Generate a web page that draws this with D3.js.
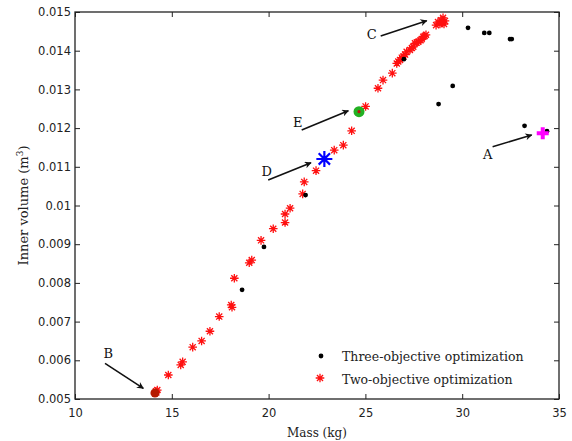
<!DOCTYPE html>
<html><head><meta charset="utf-8">
<script src="https://cdn.jsdelivr.net/npm/d3@7"></script>
<style>html,body{margin:0;padding:0;background:#fff;}svg{display:block;}</style>
</head><body>
<svg id="c" width="572" height="441"></svg>
<script>
// ---- data ----
const xTicks = [10, 15, 20, 25, 30, 35];
const yTicks = [0.005,0.006,0.007,0.008,0.009,0.01,0.011,0.012,0.013,0.014,0.015];
const yTickLabels = ["0.005","0.006","0.007","0.008","0.009","0.01","0.011","0.012","0.013","0.014","0.015"];

const threeMass = [14.15, 18.63, 19.76, 21.91, 26.99, 28.78, 29.51, 30.30, 31.14, 31.40, 32.47, 32.56, 33.22, 34.38];
const threeVol  = [0.00516, 0.00782, 0.00893, 0.01027, 0.01378, 0.01262, 0.01309, 0.01459, 0.01446, 0.01446, 0.01430, 0.01430, 0.01206, 0.01192];

const twoMass = [14.18,14.25,14.20,14.82,15.46,15.56,16.08,16.54,16.97,17.45,18.07,18.11,18.23,19.00,19.13,19.61,20.24,20.85,20.85,21.11,21.76,21.84,22.45,23.39,23.86,24.29,24.65,25.01,25.65,25.91,26.39,26.62,26.70,26.79,26.88,26.96,27.05,27.13,27.30,27.40,27.47,27.56,27.65,27.73,27.85,27.91,27.99,28.06,28.13,28.65,28.75,28.85,28.90,29.01,29.06,29.11,28.95];
const twoVol  = [0.00520,0.00523,0.00517,0.00562,0.00588,0.00596,0.00634,0.00650,0.00675,0.00713,0.00743,0.00737,0.00812,0.00852,0.00859,0.00910,0.00940,0.00956,0.00978,0.00993,0.01030,0.01061,0.01090,0.01143,0.01156,0.01193,0.01242,0.01256,0.01303,0.01324,0.01342,0.01367,0.01372,0.01376,0.01382,0.01385,0.01390,0.01397,0.01402,0.01407,0.01410,0.01419,0.01421,0.01423,0.01427,0.01430,0.01436,0.01438,0.01441,0.01466,0.01474,0.01469,0.01479,0.01485,0.01469,0.01477,0.01472];

// special points A, B, D, E
const specialNames = ["A","B","D","E"];
const specialMass  = [34.16, 14.13, 22.88, 24.67];
const specialVol   = [0.011866, 0.005155, 0.011202, 0.012424];

// annotation labels and arrows (tail -> head), data units
const annNames    = ["A","B","C","D","E"];
const annLabelM   = [31.32, 11.72, 25.33, 19.90, 21.50];
const annLabelV   = [0.011305, 0.006163, 0.014424, 0.010873, 0.012150];
const arrowTailM  = [31.57, 11.55, 25.79, 19.98, 21.71];
const arrowTailV  = [0.011519, 0.005922, 0.014380, 0.010659, 0.011951];
const arrowHeadM  = [33.59, 13.53, 28.17, 22.19, 24.12];
const arrowHeadV  = [0.011822, 0.005276, 0.014775, 0.011106, 0.012450];

const legendLabels = ["Three-objective optimization", "Two-objective optimization"];

// ---- chart ----
const svg = d3.select("#c");
const L = 75, R = 559, T = 12, B = 399;
const x = d3.scaleLinear().domain([10, 35]).range([L, R]);
const y = d3.scaleLinear().domain([0.005, 0.015]).range([B, T]);

const tickFont = "DejaVu Sans, Verdana, sans-serif";
const serif = "DejaVu Serif, Liberation Serif, serif";

// axes
const gx = svg.append("g").attr("transform", `translate(0,${B})`)
  .call(d3.axisBottom(x).tickValues(xTicks).tickSizeInner(-5).tickSizeOuter(0).tickPadding(10).tickFormat(d3.format("d")));
const gy = svg.append("g").attr("transform", `translate(${L},0)`)
  .call(d3.axisLeft(y).tickValues(yTicks).tickSizeInner(-5).tickSizeOuter(0).tickPadding(4).tickFormat((d,i)=>yTickLabels[i]));
const gxt = svg.append("g").attr("transform", `translate(0,${T})`)
  .call(d3.axisTop(x).tickValues(xTicks).tickSizeInner(-5).tickSizeOuter(0).tickFormat(""));
const gyr = svg.append("g").attr("transform", `translate(${R},0)`)
  .call(d3.axisRight(y).tickValues(yTicks).tickSizeInner(-5).tickSizeOuter(0).tickFormat(""));
[gx, gy, gxt, gyr].forEach(g => {
  g.select(".domain").remove();
  g.selectAll(".tick line").attr("stroke", "#222").attr("stroke-width", 1);
  g.selectAll("text").attr("font-family", tickFont).attr("font-size", 11.5).attr("fill", "#222");
});

svg.append("rect").attr("x", L).attr("y", T).attr("width", R - L).attr("height", B - T)
  .attr("fill", "none").attr("stroke", "#222").attr("stroke-width", 1.3);

// axis titles
svg.append("text").attr("x", (L + R) / 2).attr("y", 437).attr("text-anchor", "middle")
  .attr("font-family", serif).attr("font-size", 12).attr("fill", "#222").text("Mass (kg)");
const yl = svg.append("text").attr("transform", `translate(28,${(T + B) / 2}) rotate(-90)`)
  .attr("text-anchor", "middle").attr("font-family", serif).attr("font-size", 13).attr("fill", "#222");
yl.append("tspan").text("Inner volume (m");
yl.append("tspan").attr("dy", -5).attr("font-size", 9).text("3");
yl.append("tspan").attr("dy", 5).text(")");

// star path generator
function starPath(r) {
  const d = r * Math.SQRT1_2;
  return `M${-r},0L${r},0M0,${-r}L0,${r}M${-d},${-d}L${d},${d}M${-d},${d}L${d},${-d}`;
}

// two-objective (red stars)
svg.append("g").selectAll("path").data(d3.range(twoMass.length)).join("path")
  .attr("transform", i => `translate(${x(twoMass[i])},${y(twoVol[i])})`)
  .attr("d", starPath(4.3)).attr("stroke", "#ff1010").attr("stroke-width", 1.3).attr("fill", "none");

// three-objective (black dots)
svg.append("g").selectAll("circle").data(d3.range(threeMass.length)).join("circle")
  .attr("cx", i => x(threeMass[i])).attr("cy", i => y(threeVol[i])).attr("r", 2.4).attr("fill", "#000");

// special markers
const sp = i => [x(specialMass[i]), y(specialVol[i])];
// A magenta plus
{ const [px, py] = sp(0);
  svg.append("path").attr("d", `M${px-6},${py}L${px+6},${py}M${px},${py-6}L${px},${py+6}`)
    .attr("stroke", "#ff00ff").attr("stroke-width", 4); }
// B dark red circle
{ const [px, py] = sp(1);
  svg.append("circle").attr("cx", px).attr("cy", py).attr("r", 4.5).attr("fill", "#b51a00"); }
// D blue asterisk
{ const [px, py] = sp(2);
  svg.append("path").attr("transform", `translate(${px},${py})`).attr("d", starPath(8))
    .attr("stroke", "#0000ff").attr("stroke-width", 2.2).attr("fill", "none"); }
// E green circle with red center
{ const [px, py] = sp(3);
  svg.append("circle").attr("cx", px).attr("cy", py).attr("r", 5.5).attr("fill", "#22b022");
  svg.append("circle").attr("cx", px).attr("cy", py).attr("r", 1.6).attr("fill", "#c01010"); }

// arrows
svg.append("defs").append("marker").attr("id", "ah").attr("viewBox", "0 0 10 10")
  .attr("refX", 9).attr("refY", 5).attr("markerWidth", 10).attr("markerHeight", 7)
  .attr("markerUnits", "userSpaceOnUse").attr("orient", "auto")
  .append("path").attr("d", "M0,0L10,5L0,10L3,5Z").attr("fill", "#111");
annNames.forEach((n, i) => {
  svg.append("line").attr("x1", x(arrowTailM[i])).attr("y1", y(arrowTailV[i]))
    .attr("x2", x(arrowHeadM[i])).attr("y2", y(arrowHeadV[i]))
    .attr("stroke", "#111").attr("stroke-width", 1.6).attr("marker-end", "url(#ah)");
  svg.append("text").attr("x", x(annLabelM[i])).attr("y", y(annLabelV[i]))
    .attr("text-anchor", "middle").attr("dominant-baseline", "central")
    .attr("font-family", serif).attr("font-size", 13).attr("fill", "#111").text(n);
});

// legend
const lg = svg.append("g");
lg.append("circle").attr("cx", 321).attr("cy", 356).attr("r", 2.4).attr("fill", "#000");
lg.append("path").attr("transform", `translate(320,378)`).attr("d", starPath(4.3))
  .attr("stroke", "#ff1010").attr("stroke-width", 1.3).attr("fill", "none");
legendLabels.forEach((t, i) => {
  lg.append("text").attr("x", 342).attr("y", 361 + i * 23).attr("font-family", serif)
    .attr("font-size", 12.5).attr("fill", "#222").text(t);
});
</script>
</body></html>
